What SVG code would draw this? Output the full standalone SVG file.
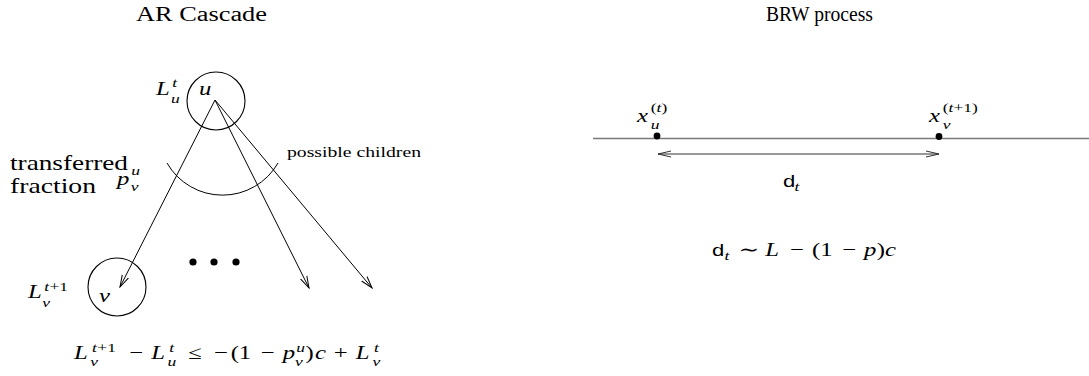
<svg xmlns="http://www.w3.org/2000/svg" width="1089" height="376" viewBox="0 0 1089 376">
<style>
.m{font-style:italic;font-size:19px}
.sc{font-style:italic;font-size:13.5px}
.sr{font-size:13.5px}
.rm{font-size:19px}
.ti{font-size:20px}
.lbl{font-size:22px}
.sm{font-size:14.5px}
.sf{font-family:"Liberation Sans","DejaVu Sans",sans-serif;font-size:17px}
.op{font-size:19px;text-anchor:middle}
.edge{fill:none;stroke:#000;stroke-width:1}
.node{fill:none;stroke:#000;stroke-width:1.1}
</style>
<defs>
<marker id="ah" markerWidth="13" markerHeight="9" refX="12" refY="4.5" orient="auto" markerUnits="userSpaceOnUse">
<path d="M0,1 L12,4.5 L0,8" fill="none" stroke="#000" stroke-width="1"/>
</marker>
<marker id="ah2" markerWidth="14" markerHeight="8" refX="13" refY="4" orient="auto-start-reverse" markerUnits="userSpaceOnUse">
<path d="M0,1 L13,4 L0,7" fill="none" stroke="#333" stroke-width="1"/>
</marker>
</defs>

<g id="connectors">
<line class="edge" x1="215" y1="100" x2="120" y2="287" marker-end="url(#ah)"/>
<line class="edge" x1="215" y1="100" x2="309" y2="288" marker-end="url(#ah)"/>
<line class="edge" x1="215" y1="100" x2="372" y2="288" marker-end="url(#ah)"/>
<path class="edge" d="M167,163 A64,64 0 0,0 278,163"/>
<line x1="593" y1="138.5" x2="1089" y2="138.5" stroke="#7a7a7a" stroke-width="1.6"/>
<line x1="658" y1="154" x2="939" y2="154" stroke="#333" stroke-width="1" marker-start="url(#ah2)" marker-end="url(#ah2)"/>
</g>

<g font-family="Liberation Serif, DejaVu Serif, serif" fill="#000">
<g id="titles">
<text class="ti" x="136" y="21" textLength="131" lengthAdjust="spacingAndGlyphs">AR Cascade</text>
<text class="ti" x="766" y="21" textLength="107" lengthAdjust="spacingAndGlyphs">BRW process</text>
</g>

<g id="node-u">
<circle class="node" cx="216" cy="101" r="29"/>
<g transform="translate(199,95) scale(1.3,1)"><text class="m" x="0" y="0">u</text></g>
<g transform="translate(156,95) scale(1.3,1)">
<text class="m" x="0" y="0">L</text>
<text class="sc" x="12.5" y="-8">t</text>
<text class="sc" x="11.5" y="8">u</text>
</g>
</g>

<g id="node-v">
<circle class="node" cx="117" cy="287" r="29"/>
<g transform="translate(99,302) scale(1.3,1)"><text class="m" x="0" y="0">v</text></g>
<g transform="translate(28,298) scale(1.3,1)">
<text class="m" x="0" y="0">L</text>
<text class="sc" x="12.5" y="-7">t</text>
<text class="sr" x="16.5" y="-7">+1</text>
<text class="sc" x="11" y="8.5">v</text>
</g>
</g>

<g id="dots">
<circle cx="193" cy="262" r="3.6"/>
<circle cx="214" cy="262" r="3.6"/>
<circle cx="236" cy="262" r="3.6"/>
</g>

<g id="label-fraction">
<text class="lbl" x="10" y="170" textLength="118" lengthAdjust="spacingAndGlyphs">transferred</text>
<text class="lbl" x="10" y="193" textLength="86" lengthAdjust="spacingAndGlyphs">fraction</text>
<g transform="translate(117,185) scale(1.3,1)">
<text class="m" x="0" y="0">p</text>
<text class="sc" x="11" y="-10">u</text>
<text class="sc" x="10.5" y="6">v</text>
</g>
</g>

<g id="label-children">
<text class="sm" x="287" y="157" textLength="134" lengthAdjust="spacingAndGlyphs">possible children</text>
</g>

<g id="formula-left" transform="translate(74,359) scale(1.3,1)">
<text class="m" x="0" y="0">L</text>
<text class="sc" x="13.9" y="-7">t</text>
<text class="sr" x="17.9" y="-7">+1</text>
<text class="sc" x="12.5" y="6.5">v</text>
<text class="op" x="47.9" y="0">−</text>
<text class="m" x="59.5" y="0">L</text>
<text class="sc" x="73.3" y="-7">t</text>
<text class="sc" x="72" y="6.5">u</text>
<text class="op" x="92.9" y="0">≤</text>
<text class="op" x="113" y="0">−</text>
<text class="rm" x="120.5" y="0">(1</text>
<text class="op" x="149" y="0">−</text>
<text class="m" x="160.6" y="0">p</text>
<text class="sc" x="171" y="-7">u</text>
<text class="sc" x="170" y="6.5">v</text>
<text class="rm" x="178" y="0">)</text>
<text class="m" x="185.4" y="0">c</text>
<text class="op" x="205.2" y="0">+</text>
<text class="m" x="216.8" y="0">L</text>
<text class="sc" x="230.7" y="-7">t</text>
<text class="sc" x="229.7" y="6.5">v</text>
</g>

<g id="node-xu">
<circle cx="657" cy="136" r="3.4"/>
<g transform="translate(637,122) scale(1.3,1)">
<text class="m" x="0" y="0">x</text>
<text class="sr" x="10.5" y="-10">(<tspan font-style="italic">t</tspan>)</text>
<text class="sc" x="10.5" y="7">u</text>
</g>
</g>

<g id="node-xv">
<circle cx="939" cy="136.5" r="3.4"/>
<g transform="translate(929,122) scale(1.3,1)">
<text class="m" x="0" y="0">x</text>
<text class="sr" x="10.5" y="-10">(<tspan font-style="italic">t</tspan>+1)</text>
<text class="sc" x="10.5" y="7">v</text>
</g>
</g>

<g id="label-dt" transform="translate(783,187) scale(1.3,1)">
<text class="sf" x="0" y="0">d</text>
<text class="sc" x="8.8" y="4">t</text>
</g>

<g id="formula-right" transform="translate(712,256) scale(1.3,1)">
<text class="sf" x="0" y="0">d</text>
<text class="sc" x="9.6" y="4">t</text>
<text class="op" x="28.3" y="0">∼</text>
<text class="m" x="40.9" y="0">L</text>
<text class="op" x="65.4" y="0">−</text>
<text class="rm" x="77" y="0">(1</text>
<text class="op" x="105.5" y="0">−</text>
<text class="m" x="117" y="0">p</text>
<text class="rm" x="126.7" y="0">)</text>
<text class="m" x="133" y="0">c</text>
</g>
</g>
</svg>
